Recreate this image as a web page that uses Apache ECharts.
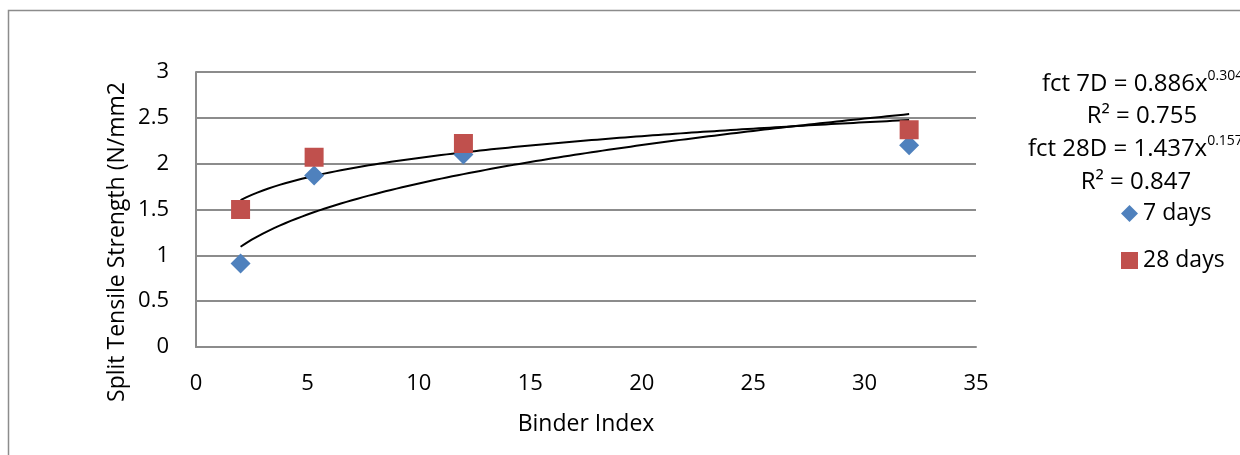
<!DOCTYPE html>
<html>
<head>
<meta charset="utf-8">
<script src="https://cdn.jsdelivr.net/npm/echarts@6/dist/echarts.min.js"></script>
<style>
  html, body { margin: 0; padding: 0; background: #fff; }
  #chart { width: 1240px; height: 455px; }
</style>
</head>
<body>
<div id="chart"></div>
<script>
// Binder index vs split tensile strength
const binderIndex = [2, 5.3, 12, 32];
const strength7d = [0.91, 1.87, 2.10, 2.20];
const strength28d = [1.50, 2.07, 2.22, 2.37];

// Power-law trendline coefficients (fct = a * x^b)
const fit7d = { a: 0.886, b: 0.304, r2: 0.755 };
const fit28d = { a: 1.437, b: 0.157, r2: 0.847 };

const xTicks = [0, 5, 10, 15, 20, 25, 30, 35];
const yTicks = [0, 0.5, 1, 1.5, 2, 2.5, 3];

const FONT = '"Open Sans", "Noto Sans", sans-serif';

function trend(fit) {
  const pts = [];
  const x0 = binderIndex[0], x1 = binderIndex[binderIndex.length - 1];
  const n = 120;
  for (let i = 0; i <= n; i++) {
    const x = x0 + (x1 - x0) * i / n;
    pts.push([x, fit.a * Math.pow(x, fit.b)]);
  }
  return pts;
}

const chart = echarts.init(document.getElementById('chart'), null, { renderer: 'canvas' });

function eqText(label, fit) {
  return '{n|' + label + ' = ' + fit.a.toFixed(3) + 'x}{s|' + fit.b.toFixed(3) + '}';
}

const rich = {
  n: { fontSize: 24, fontFamily: FONT, color: '#000', lineHeight: 30 },
  s: { fontSize: 14, fontFamily: FONT, color: '#000', lineHeight: 16, verticalAlign: 'top' }
};

chart.setOption({
  animation: false,
  backgroundColor: '#fff',
  grid: { left: 196, right: 264, top: 72, bottom: 108 },
  xAxis: {
    type: 'value',
    min: xTicks[0], max: xTicks[xTicks.length - 1], interval: 5,
    name: 'Binder Index', nameLocation: 'middle', nameGap: 66,
    nameTextStyle: { fontSize: 23, fontFamily: FONT, color: '#000' },
    axisLine: { show: true, lineStyle: { color: '#8c8c8c', width: 2 } },
    axisTick: { show: false },
    axisLabel: { fontSize: 22, fontFamily: FONT, color: '#000', margin: 26 },
    splitLine: { show: false }
  },
  yAxis: {
    type: 'value',
    min: yTicks[0], max: yTicks[yTicks.length - 1], interval: 0.5,
    axisLine: { show: true, lineStyle: { color: '#8c8c8c', width: 2 } },
    axisTick: { show: false },
    axisLabel: { fontSize: 22, fontFamily: FONT, color: '#000', margin: 27 },
    splitLine: { show: true, lineStyle: { color: '#8c8c8c', width: 2 } }
  },
  legend: {
    orient: 'vertical',
    left: 1116, top: 197,
    itemWidth: 17, itemHeight: 17, itemGap: 24,
    textStyle: { fontSize: 23, fontFamily: FONT, color: '#000' },
    data: ['7 days', '28 days']
  },
  series: [
    {
      name: '7D trend', type: 'line', data: trend(fit7d), showSymbol: false, symbol: 'none',
      lineStyle: { color: '#000', width: 2 }, z: 2, silent: true
    },
    {
      name: '28D trend', type: 'line', data: trend(fit28d), showSymbol: false, symbol: 'none',
      lineStyle: { color: '#000', width: 2 }, z: 2, silent: true
    },
    {
      name: '7 days', type: 'scatter', symbol: 'diamond', symbolSize: 20,
      itemStyle: { color: '#4f81bd', opacity: 1 }, z: 3,
      data: binderIndex.map((x, i) => [x, strength7d[i]])
    },
    {
      name: '28 days', type: 'scatter', symbol: 'rect', symbolSize: 19,
      itemStyle: { color: '#c0504d', opacity: 1 }, z: 4,
      data: binderIndex.map((x, i) => [x, strength28d[i]])
    }
  ],
  graphic: [
    {
      type: 'rect', silent: true,
      shape: { x: 8.5, y: 10.5, width: 1400, height: 600 },
      style: { fill: 'none', stroke: '#8c8c8c', lineWidth: 1.5 }
    },
    {
      type: 'text', x: 117, y: 242, rotation: Math.PI / 2, silent: true,
      style: {
        text: 'Split Tensile Strength (N/mm2', fontSize: 23, fontFamily: FONT, fill: '#000',
        align: 'center', verticalAlign: 'middle'
      }
    },
    {
      type: 'text', x: 1042, y: 84, silent: true,
      style: { text: eqText('fct 7D', fit7d), rich: rich, align: 'left', verticalAlign: 'middle' }
    },
    {
      type: 'text', x: 1142, y: 116, silent: true,
      style: { text: 'R² = ' + fit7d.r2.toFixed(3), fontSize: 24, fontFamily: FONT, fill: '#000', align: 'center', verticalAlign: 'middle' }
    },
    {
      type: 'text', x: 1028, y: 149, silent: true,
      style: { text: eqText('fct 28D', fit28d), rich: rich, align: 'left', verticalAlign: 'middle' }
    },
    {
      type: 'text', x: 1136, y: 182, silent: true,
      style: { text: 'R² = ' + fit28d.r2.toFixed(3), fontSize: 24, fontFamily: FONT, fill: '#000', align: 'center', verticalAlign: 'middle' }
    }
  ]
});
</script>
</body>
</html>
